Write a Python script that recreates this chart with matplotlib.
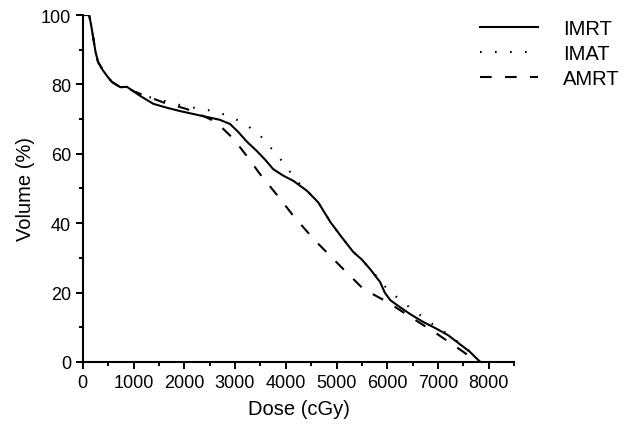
import matplotlib.pyplot as plt
from matplotlib.ticker import MultipleLocator

plt.rcParams['font.family'] = ['Liberation Sans', 'DejaVu Sans']

# dose-volume histogram values
imrt_dose = [0, 125, 160, 200, 250, 300, 400, 500, 575, 740, 870, 1000, 1130, 1390, 1650,
             1920, 2200, 2450, 2700, 2900, 3050, 3240, 3430, 3600, 3750, 3950, 4150, 4420,
             4640, 4880, 5100, 5330, 5500, 5660, 5860, 5950, 6060, 6250, 6450, 6700, 6980,
             7200, 7370, 7630, 7830]
imrt_vol = [100, 100, 97.5, 94, 89.5, 86.5, 84, 82, 80.7, 79.2, 79.3, 78, 76.7, 74.4, 73.3,
            72.3, 71.4, 70.6, 69.8, 68.6, 66.5, 63.4, 60.8, 58.2, 55.6, 53.7, 52.2, 49.3,
            46, 40.3, 36, 31.7, 29.5, 26.8, 23, 20, 17.8, 15.8, 13.8, 11.6, 9.5,
            7.7, 5.8, 2.9, 0]

imat_dose = [0, 125, 160, 200, 250, 300, 400, 500, 575, 740, 870, 1000, 1130, 1460, 1980,
             2580, 2900, 3200, 3500, 3760, 3990, 4180, 4420, 4640, 4880, 5100, 5330, 5500,
             5660, 5860, 6000, 6160, 6450, 6750, 6980, 7200, 7370, 7630, 7830]
imat_vol = [100, 100, 97.5, 94, 89.5, 86.5, 84, 82, 80.7, 79.2, 79.3, 78.2, 77, 75.8, 73.8,
            72.3, 70.8, 68.6, 65.2, 60.8, 56.8, 52.7, 49.3, 46, 40.3, 36, 31.7, 29.5,
            26.8, 23.5, 21, 19, 15.6, 12.4, 10, 8, 6, 3, 0]

amrt_dose = [0, 125, 160, 200, 250, 300, 400, 500, 575, 740, 870, 1000, 1590, 2050, 2510,
             2710, 2970, 3230, 3490, 3890, 4150, 4550, 5070, 5530, 6000, 6520, 6980, 7500,
             7630, 7750]
amrt_vol = [100, 100, 97.5, 94, 89.5, 86.5, 84, 82, 80.7, 79.2, 79.3, 78, 74.8, 72.9, 70,
            68, 64.3, 59.4, 54.2, 47, 42.1, 35.4, 27.7, 21, 17.3, 12.4, 8.1, 2.9,
            1.5, 0]

fig = plt.figure(figsize=(6.27, 4.27), dpi=100)
ax = fig.add_axes([0.132, 0.15, 0.688, 0.8125])

ax.plot(imrt_dose, imrt_vol, color='black', lw=1.5, label='IMRT')
ax.plot(imat_dose, imat_vol, color='black', lw=1.5, dashes=(0.8, 6.4), label='IMAT')
ax.plot(amrt_dose, amrt_vol, color='black', lw=1.5, dashes=(5.6, 6.4), label='AMRT')

ax.set_xlim(0, 8500)
ax.set_ylim(0, 100)
ax.xaxis.set_major_locator(MultipleLocator(1000))
ax.xaxis.set_minor_locator(MultipleLocator(500))
ax.yaxis.set_major_locator(MultipleLocator(20))
ax.yaxis.set_minor_locator(MultipleLocator(10))
for s in ['top', 'right']:
    ax.spines[s].set_visible(False)
for s in ['left', 'bottom']:
    ax.spines[s].set_linewidth(1.5)
ax.tick_params(which='major', length=5, width=1.4, labelsize=13, direction='out')
ax.tick_params(which='minor', length=3, width=1.4, direction='out')

ax.set_xlabel('Dose (cGy)', fontsize=14.5, labelpad=6)
ax.set_ylabel('Volume (%)', fontsize=14.5)

ax.legend(loc='upper left', bbox_to_anchor=(0.736, 0.995), bbox_transform=fig.transFigure,
          frameon=False, fontsize=14.5, handlelength=2.9, handletextpad=1.25, labelspacing=0.3)

fig.savefig('out.png', dpi=100)
